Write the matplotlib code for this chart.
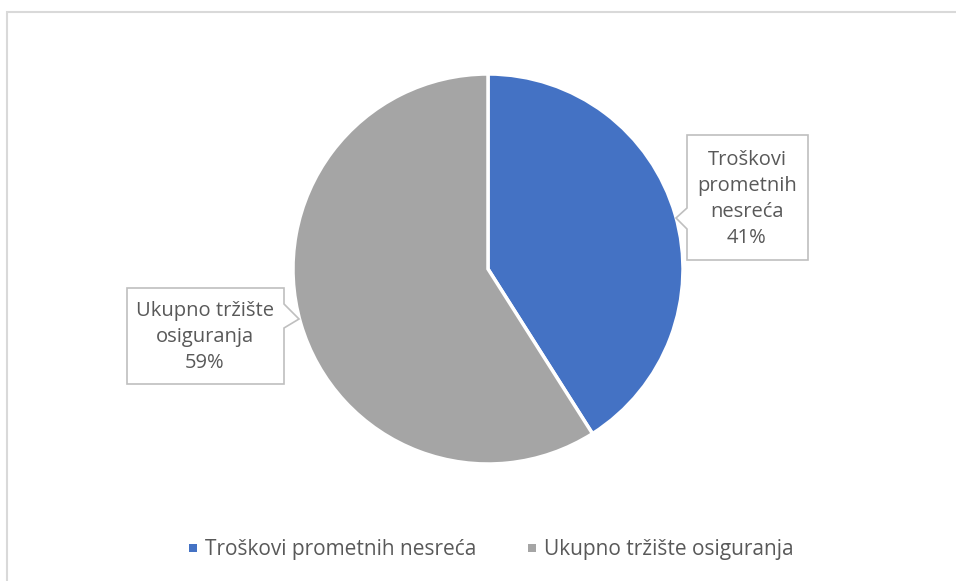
import matplotlib.pyplot as plt
from matplotlib.patches import Polygon, Rectangle

labels = ['Troškovi prometnih nesreća', 'Ukupno tržište osiguranja']
values = [41, 59]
colors = ['#4472C4', '#A5A5A5']
callout_text = ['Troškovi\nprometnih\nnesreća\n41%', 'Ukupno tržište\nosiguranja\n59%']

W, H = 956, 581
plt.rcParams['font.family'] = ['Open Sans', 'DejaVu Sans']
text_color = '#595959'

fig = plt.figure(figsize=(W / 100, H / 100), dpi=100)
ax = fig.add_axes([0, 0, 1, 1])


def py(y):
    # pixel row -> data y
    return H - y


# chart area border (only top/left visible in the crop)
ax.add_patch(Rectangle((7, py(W)), W, py(12) - py(W), fill=False,
                       edgecolor='#D9D9D9', linewidth=1.5))

ax.pie(values, colors=colors, startangle=90, counterclock=False,
       center=(488, py(269)), radius=195, frame=True,
       wedgeprops=dict(edgecolor='white', linewidth=2.5))
ax.set_xlim(0, W)
ax.set_ylim(0, H)
ax.set_aspect('equal')
ax.axis('off')

# callout boxes with pointer notch
box_right = [(687, 135), (808, 135), (808, 260), (687, 260),
             (687, 229), (676, 218), (687, 208)]
box_left = [(127, 288), (284, 288), (284, 304), (299, 319), (284, 328),
            (284, 384), (127, 384)]
for pts in (box_right, box_left):
    ax.add_patch(Polygon([(x, py(y)) for x, y in pts], closed=True,
                         facecolor='white', edgecolor='#BFBFBF', linewidth=1.2))

ax.text(747, py(199), callout_text[0], ha='center', va='center',
        fontsize=14.5, color=text_color, linespacing=1.4)
ax.text(205, py(337), callout_text[1], ha='center', va='center',
        fontsize=14.5, color=text_color, linespacing=1.4)

# legend
legend_x = [189, 528]
for lx, lab, col in zip(legend_x, labels, colors):
    ax.add_patch(Rectangle((lx, py(552)), 8, 8, facecolor=col, edgecolor='none'))
    ax.text(lx + 16, py(549), lab, ha='left', va='center', fontsize=15,
            color=text_color)

fig.savefig('out.png', dpi=100)
